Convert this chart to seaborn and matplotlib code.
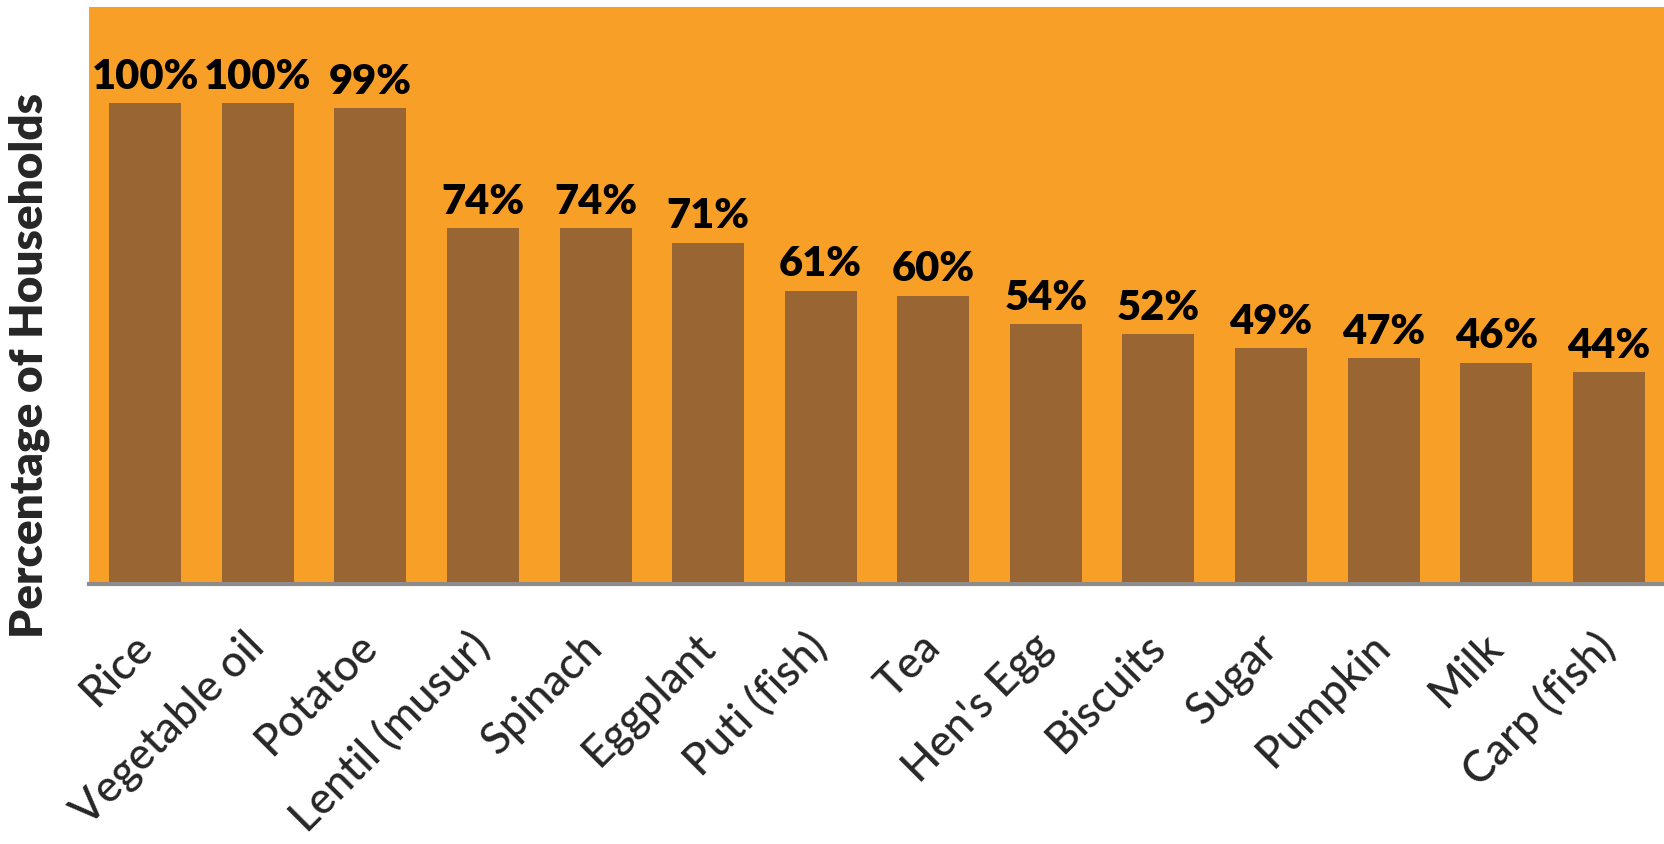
import matplotlib
matplotlib.use("Agg")
import matplotlib.pyplot as plt
import seaborn as sns
import pandas as pd

foods = ["Rice", "Vegetable oil", "Potatoe", "Lentil (musur)", "Spinach", "Eggplant",
         "Puti (fish)", "Tea", "Hen's Egg", "Biscuits", "Sugar", "Pumpkin", "Milk",
         "Carp (fish)"]
share_pct = [100, 100, 99, 74, 74, 71, 61, 60, 54, 52, 49, 47, 46, 44]

BG = "#F79F26"
BAR = "#996633"

sns.set_theme(style="white")
plt.rcParams["font.family"] = ["Lato", "DejaVu Sans"]

df = pd.DataFrame({"food": foods, "pct": share_pct})

fig = plt.figure(figsize=(16.65, 8.45), dpi=100)
ax = fig.add_axes([89 / 1665, 1 - 585 / 845, 1576 / 1665, 577 / 845])
ax.set_facecolor(BG)

sns.barplot(data=df, x="food", y="pct", color=BAR, width=0.64, saturation=1,
            ax=ax, edgecolor="none")

ax.set_xlim(-0.5, len(foods) - 0.5)
ax.set_ylim(0, 120)
ax.set_yticks([])
ax.set_xlabel("")
ax.set_ylabel("Percentage of Households", fontsize=33, fontweight="heavy")
ax.yaxis.set_label_coords(-0.025, 0.38)

for side in ("top", "right", "left"):
    ax.spines[side].set_visible(False)
ax.spines["bottom"].set_color("#8C8C8C")
ax.spines["bottom"].set_linewidth(3)

ax.bar_label(ax.containers[0], labels=[f"{v}%" for v in share_pct],
             fontsize=30, fontweight="heavy", color="black", padding=6)

ax.tick_params(axis="x", length=0, pad=40, labelsize=31.5)
for lbl in ax.get_xticklabels():
    lbl.set_rotation(45)
    lbl.set_ha("right")
    lbl.set_va("center")
    lbl.set_rotation_mode("anchor")
    lbl.set_fontweight("medium")

fig.savefig("out.png", dpi=100, facecolor="white")
